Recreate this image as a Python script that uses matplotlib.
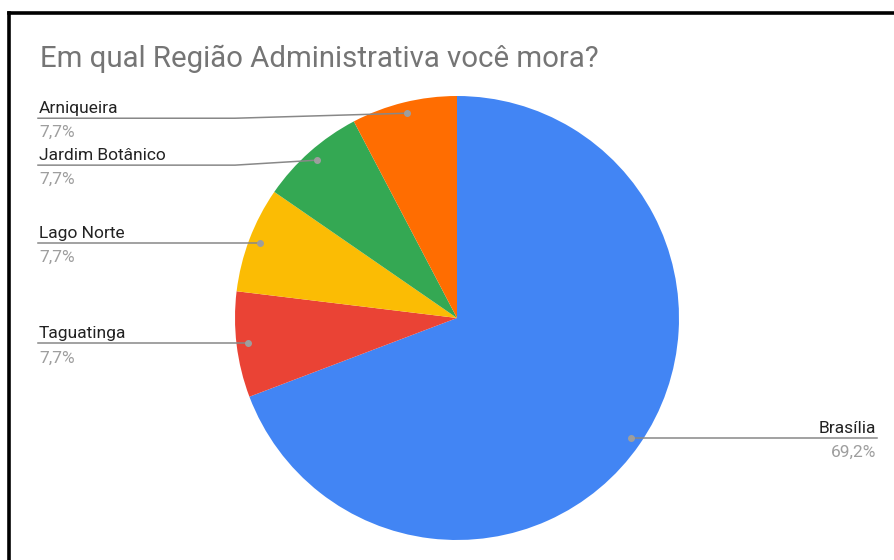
import matplotlib.pyplot as plt
import numpy as np

plt.rcParams['font.family'] = ['Roboto', 'DejaVu Sans']

# respostas por região (ordem horária a partir do topo)
regioes = ["Brasília", "Taguatinga", "Lago Norte", "Jardim Botânico", "Arniqueira"]
respostas = [9, 1, 1, 1, 1]
cores = ["#4285F4", "#EA4335", "#FBBC04", "#34A853", "#FF6D01"]
titulo = "Em qual Região Administrativa você mora?"

W, H = 895, 560
fig = plt.figure(figsize=(W / 100, H / 100), dpi=100)
ax = fig.add_axes([0, 0, 1, 1])
ax.set_xlim(0, W)
ax.set_ylim(0, H)
ax.set_aspect('equal')
ax.axis('off')

cx, cy, r = 457, H - 318, 222
wedges, _ = ax.pie(respostas, colors=cores, startangle=90, counterclock=False,
                   center=(cx, cy), radius=r, wedgeprops=dict(linewidth=0))
ax.set_xlim(0, W)
ax.set_ylim(0, H)

total = sum(respostas)
# deslocamento vertical da linha de rótulo (evita sobreposição no topo)
ajuste = {"Arniqueira": -5, "Jardim Botânico": -5}
gray_line = "#888888"
fs = 12.5
for w, nome, val in zip(wedges, regioes, respostas):
    ang = np.deg2rad((w.theta1 + w.theta2) / 2)
    px = cx + 0.95 * r * np.cos(ang)
    py = cy + 0.95 * r * np.sin(ang)
    ly = py + ajuste.get(nome, 0)
    pct = f"{100 * val / total:.1f}%".replace(".", ",")
    ax.plot(px, py, 'o', color="#9e9e9e", ms=4, zorder=5)
    if px > cx:
        xe = 877
        ax.plot([px, xe], [ly, ly], color=gray_line, lw=1.1)
        ax.text(xe - 1, ly + 5, nome, ha='right', va='baseline', fontsize=fs, color="#222222")
        ax.text(xe - 1, ly - 19, pct, ha='right', va='baseline', fontsize=fs, color="#9e9e9e")
    else:
        xs = 38
        xk = 235 if ly != py else px
        ax.plot([xs, xk, px], [ly, ly, py], color=gray_line, lw=1.1)
        ax.text(xs + 1, ly + 5, nome, ha='left', va='baseline', fontsize=fs, color="#222222")
        ax.text(xs + 1, ly - 19, pct, ha='left', va='baseline', fontsize=fs, color="#9e9e9e")

ax.text(40, H - 67, titulo, ha='left', va='baseline', fontsize=21.2, color="#757575")

# moldura preta
ax.plot([9.5, 9.5], [0, H - 12.5], color="black", lw=2.6, solid_capstyle='projecting')
ax.plot([9.5, W], [H - 12.5, H - 12.5], color="black", lw=2.6, solid_capstyle='projecting')

fig.savefig("out.png", dpi=100)
